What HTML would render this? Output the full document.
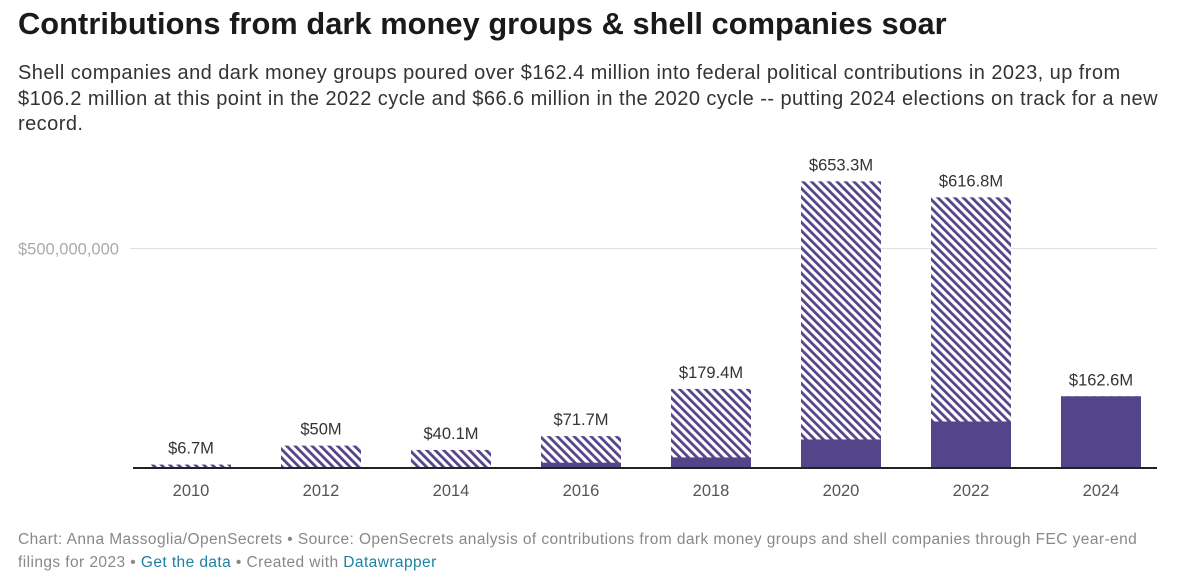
<!DOCTYPE html>
<html><head><meta charset="utf-8"><style>
body{margin:0;width:1183px;height:586px;background:#fff;font-family:"Liberation Sans",Arial,sans-serif;overflow:hidden;position:relative}
h1{position:absolute;left:18px;top:6px;margin:0;font-size:30.8px;font-weight:bold;color:#1a1a1a;letter-spacing:0.05px}
.sub{position:absolute;left:18px;top:61px;width:1160px;font-size:20px;line-height:25.5px;color:#333;letter-spacing:0.45px;white-space:nowrap}
.foot{position:absolute;left:18px;top:528px;width:1160px;font-size:15.5px;line-height:23px;color:#888;letter-spacing:0.42px;white-space:nowrap}
.foot a{color:#1d81a2;text-decoration:none}
svg{position:absolute;left:0;top:0}
</style></head><body>
<h1>Contributions from dark money groups &amp; shell companies soar</h1>
<div class="sub">Shell companies and dark money groups poured over $162.4 million into federal political contributions in 2023, up from<br>$106.2 million at this point in the 2022 cycle and $66.6 million in the 2020 cycle -- putting 2024 elections on track for a new<br>record.</div>
<svg id="chart" width="1183" height="586">
<defs><pattern id="hatch" patternUnits="userSpaceOnUse" width="6" height="6" patternTransform="rotate(-45)"><rect width="6" height="6" fill="#fff"/><rect width="2.8" height="6" fill="#54458a"/></pattern></defs>
</svg>
<div class="foot">Chart: Anna Massoglia/OpenSecrets • Source: OpenSecrets analysis of contributions from dark money groups and shell companies through FEC year-end<br>filings for 2023 • <a>Get the data</a> • Created with <a>Datawrapper</a></div>
<script>
const years=["2010","2012","2014","2016","2018","2020","2022","2024"];
const totals=[6.7,50,40.1,71.7,179.4,653.3,616.8,162.6];
const solids=[0,0,0,11,23,64,105,162.6];
const labels=["$6.7M","$50M","$40.1M","$71.7M","$179.4M","$653.3M","$616.8M","$162.6M"];
const ticks=[500];
const tickLabels=["$500,000,000"];
const svg=document.getElementById('chart');const NS='http://www.w3.org/2000/svg';
const base=467.5,scale=219/500;
const y=v=>base-v*scale;
const x=i=>151+i*130;
function mk(t,a){const e=document.createElementNS(NS,t);for(const k in a)e.setAttribute(k,a[k]);svg.appendChild(e);return e;}
ticks.forEach((t,i)=>{
const g=mk('line',{x1:18,x2:1157,y1:y(t),y2:y(t),stroke:'#e0e0e0','stroke-width':1});


const bg=mk('rect',{x:16,y:y(t)-12,width:114,height:24,fill:'#fff'});
const l=mk('text',{x:18,y:y(t)+6,'font-size':16.5,fill:'#aaa'});l.textContent=tickLabels[i];


});
years.forEach((yr,i)=>{
const h=mk('rect',{x:x(i),y:y(totals[i]),width:80,height:totals[i]*scale,fill:'url(#hatch)'});


if(solids[i]>0){const s=mk('rect',{x:x(i),y:y(solids[i]),width:80,height:solids[i]*scale,fill:'#54458a'});

}
const v=mk('text',{x:x(i)+40,y:y(totals[i])-11,'font-size':16.5,fill:'#333','text-anchor':'middle'});v.textContent=labels[i];


const t=mk('text',{x:x(i)+40,y:496,'font-size':16.5,fill:'#555','text-anchor':'middle'});t.textContent=yr;


});
const ax=mk('line',{x1:133,x2:1157,y1:base+0.5,y2:base+0.5,stroke:'#222','stroke-width':2});


</script>
</body></html>
